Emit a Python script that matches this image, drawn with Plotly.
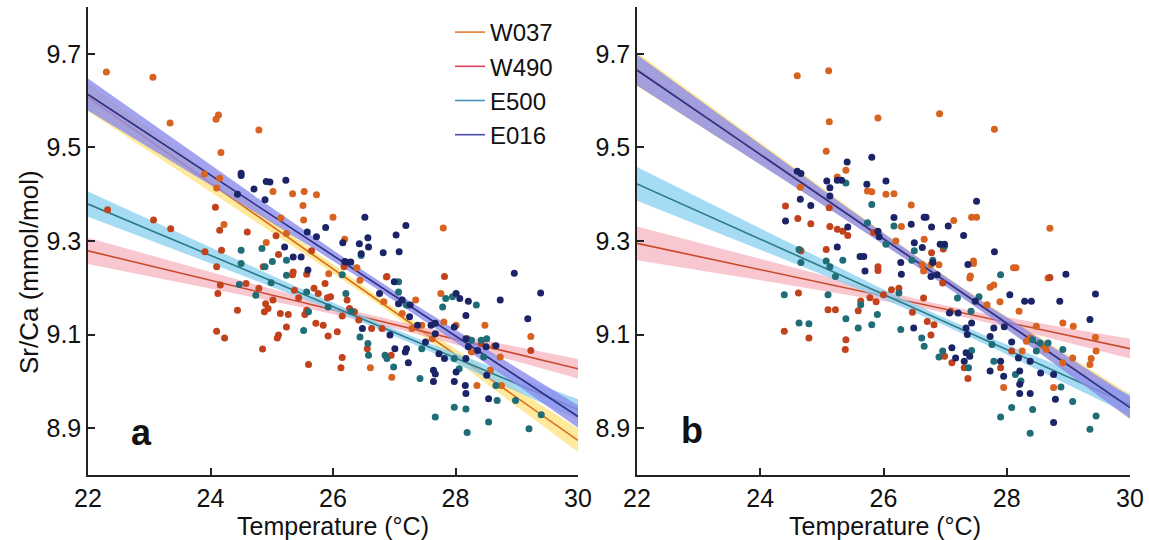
import numpy as np
import plotly.graph_objects as go

# ---------------- data ----------------
SERIES = ["W037", "W490", "E500", "E016"]

# panel a : (temperature degC, Sr/Ca mmol/mol)
W037_a = [(22.30, 9.661), (23.06, 9.650), (23.34, 9.552), (24.09, 9.560), (24.13, 9.569), (24.17, 9.489),
          (24.79, 9.537), (23.90, 9.443), (24.15, 9.434), (24.10, 9.413), (25.02, 9.406), (25.34, 9.401),
          (25.53, 9.406), (25.73, 9.399), (25.51, 9.376), (24.22, 9.335), (25.15, 9.349), (25.52, 9.345),
          (26.00, 9.351), (25.24, 9.316), (24.91, 9.297), (26.19, 9.304), (27.80, 9.328), (26.87, 9.223),
          (26.39, 9.243), (25.93, 9.230), (26.44, 9.216), (26.83, 9.170), (27.13, 9.145), (27.35, 9.174),
          (27.45, 9.120), (27.76, 9.188), (27.81, 9.127), (28.01, 9.120), (28.20, 9.091), (28.35, 8.991),
          (28.48, 9.120), (28.57, 9.024), (28.73, 9.052), (28.75, 8.991), (28.63, 9.075), (29.23, 9.096),
          (27.29, 9.113), (26.61, 9.029), (26.96, 9.009), (27.62, 9.091), (28.26, 9.063)]
W490_a = [(22.32, 9.367), (23.07, 9.345), (23.35, 9.326), (24.08, 9.372), (24.15, 9.323), (24.60, 9.319),
          (25.07, 9.311), (24.18, 9.280), (23.91, 9.277), (25.65, 9.279), (24.10, 9.245), (24.86, 9.245),
          (25.11, 9.271), (25.34, 9.228), (24.16, 9.206), (24.12, 9.188), (24.44, 9.152), (24.10, 9.107),
          (24.23, 9.093), (24.85, 9.069), (24.58, 9.209), (24.79, 9.199), (24.90, 9.166), (24.94, 9.156),
          (24.88, 9.149), (25.02, 9.174), (25.14, 9.145), (25.27, 9.143), (25.24, 9.116), (25.09, 9.093),
          (25.11, 9.099), (25.35, 9.234), (25.37, 9.195), (25.44, 9.179), (25.57, 9.229), (25.57, 9.152),
          (25.54, 9.143), (25.69, 9.199), (25.76, 9.188), (25.87, 9.209), (25.91, 9.179), (25.96, 9.181),
          (25.60, 9.036), (25.72, 9.124), (25.84, 9.120), (25.92, 9.097), (26.07, 9.106), (26.15, 9.051),
          (26.13, 9.029), (26.18, 9.245), (26.23, 9.174), (26.27, 9.156), (26.15, 9.140), (26.35, 9.149),
          (26.42, 9.131), (26.56, 9.070), (26.63, 9.113), (26.80, 9.113), (26.88, 9.224), (26.95, 9.056),
          (27.82, 9.224), (29.23, 9.066), (28.42, 9.081)]
E500_a = [(24.50, 9.280), (24.84, 9.284), (24.89, 9.245), (25.24, 9.259), (25.24, 9.227), (26.46, 9.269),
          (26.15, 9.228), (24.50, 9.252), (25.01, 9.256), (24.47, 9.207), (24.74, 9.184), (24.99, 9.211),
          (25.57, 9.191), (25.60, 9.149), (25.52, 9.109), (25.92, 9.159), (26.21, 9.188), (26.30, 9.150),
          (26.44, 9.095), (26.57, 9.081), (26.58, 9.056), (26.85, 9.056), (26.88, 9.049), (26.99, 9.031),
          (27.07, 9.213), (27.07, 9.191), (27.20, 9.163), (27.45, 9.070), (27.42, 9.006), (27.67, 8.924),
          (27.79, 9.159), (27.84, 9.177), (27.95, 9.181), (27.98, 8.945), (28.17, 8.941), (28.19, 8.891),
          (28.34, 9.163), (28.26, 9.088), (28.42, 9.088), (28.51, 9.091), (28.46, 9.052), (28.66, 8.991),
          (28.54, 8.913), (28.68, 8.959), (28.98, 8.959), (29.20, 8.899), (29.40, 8.929), (27.98, 9.049),
          (28.06, 9.027)]
E016_a = [(24.50, 9.445), (24.50, 9.440), (24.71, 9.411), (24.91, 9.427), (24.97, 9.426), (25.23, 9.430),
          (24.44, 9.400), (24.89, 9.388), (25.58, 9.319), (25.73, 9.309), (25.88, 9.329), (26.52, 9.351),
          (26.57, 9.307), (27.03, 9.313), (27.19, 9.333), (26.16, 9.296), (26.43, 9.294), (26.58, 9.287),
          (26.82, 9.275), (27.08, 9.277), (25.21, 9.287), (25.35, 9.266), (25.48, 9.266), (25.59, 9.238),
          (26.21, 9.255), (26.29, 9.255), (26.46, 9.273), (28.96, 9.231), (29.39, 9.189), (28.73, 9.174),
          (29.18, 9.134), (28.01, 9.188), (28.07, 9.177), (28.21, 9.171), (28.17, 9.141), (27.98, 9.116),
          (28.17, 9.091), (28.21, 9.074), (28.17, 9.049), (28.16, 8.991), (28.17, 8.974), (27.98, 9.000),
          (28.01, 9.020), (28.36, 9.066), (28.50, 9.074), (28.66, 9.076), (28.51, 9.013), (28.54, 8.963),
          (27.67, 9.124), (27.67, 9.102), (27.64, 9.024), (27.67, 9.016), (27.64, 9.000), (27.82, 9.049),
          (27.51, 9.084), (27.73, 9.059), (27.26, 9.163), (27.13, 9.174), (27.07, 9.166), (27.25, 9.138),
          (27.20, 9.070), (27.18, 9.063), (27.23, 9.040), (27.01, 9.070), (26.93, 9.099), (26.76, 9.188),
          (26.48, 9.113), (27.00, 9.213), (26.19, 9.256), (27.38, 9.120), (27.60, 9.120)]

# panel b
W037_b = [(24.60, 9.653), (25.11, 9.664), (25.12, 9.555), (25.07, 9.492), (25.91, 9.563), (26.91, 9.572),
          (27.80, 9.539), (24.65, 9.415), (25.25, 9.437), (25.39, 9.451), (25.74, 9.407), (25.81, 9.405),
          (26.04, 9.400), (26.17, 9.401), (26.45, 9.377), (26.29, 9.331), (26.20, 9.300), (26.66, 9.304),
          (27.14, 9.344), (27.43, 9.351), (27.51, 9.351), (27.46, 9.257), (28.70, 9.327), (28.15, 9.243),
          (27.41, 9.225), (26.65, 9.236), (26.63, 9.249), (26.77, 9.249), (26.90, 9.249), (27.40, 9.221),
          (27.46, 9.252), (27.73, 9.201), (27.79, 9.206), (27.68, 9.164), (27.89, 9.170), (28.11, 9.243),
          (28.67, 9.221), (28.20, 9.150), (28.48, 9.118), (28.91, 9.125), (29.08, 9.118), (29.44, 9.094),
          (29.45, 9.065), (29.37, 9.049), (29.35, 9.036), (28.91, 9.040), (29.07, 9.050), (28.76, 8.987),
          (27.95, 8.987), (28.38, 9.093), (28.60, 9.075), (28.64, 9.068), (28.25, 9.065), (28.32, 9.086)]
W490_b = [(24.41, 9.375), (24.61, 9.348), (24.82, 9.337), (25.12, 9.371), (25.13, 9.331), (25.25, 9.325),
          (25.34, 9.321), (25.42, 9.312), (25.84, 9.318), (25.07, 9.282), (24.66, 9.279), (26.78, 9.275),
          (26.97, 9.283), (28.70, 9.222), (25.91, 9.245), (25.91, 9.237), (24.39, 9.107), (24.79, 9.093),
          (24.62, 9.189), (25.39, 9.089), (25.38, 9.068), (25.10, 9.153), (25.22, 9.153), (25.59, 9.151),
          (25.78, 9.179), (25.63, 9.172), (25.88, 9.170), (26.25, 9.199), (26.13, 9.196), (26.00, 9.185),
          (26.47, 9.148), (26.65, 9.178), (26.71, 9.128), (26.77, 9.099), (26.96, 9.210), (26.82, 9.121),
          (27.09, 9.150), (27.11, 9.040), (26.99, 9.054), (27.31, 9.029), (27.37, 9.006), (27.90, 9.029),
          (28.08, 9.065)]
E500_b = [(25.39, 9.424), (25.81, 9.378), (25.74, 9.339), (26.17, 9.332), (26.04, 9.293), (24.63, 9.282),
          (24.66, 9.254), (25.07, 9.257), (25.34, 9.259), (25.13, 9.245), (26.50, 9.279), (26.46, 9.259),
          (26.80, 9.259), (26.99, 9.289), (24.39, 9.185), (24.63, 9.125), (24.79, 9.123), (25.10, 9.185),
          (25.22, 9.224), (25.39, 9.134), (25.59, 9.114), (25.63, 9.164), (25.81, 9.121), (25.90, 9.143),
          (26.25, 9.189), (26.28, 9.111), (26.62, 9.093), (26.66, 9.075), (26.90, 9.052), (26.96, 9.065),
          (27.42, 9.150), (27.43, 9.066), (27.38, 9.029), (27.76, 9.079), (27.90, 8.924), (28.08, 8.944),
          (28.42, 8.940), (28.38, 8.889), (28.42, 9.089), (28.54, 9.082), (28.48, 9.065), (28.67, 9.082),
          (28.88, 8.988), (29.07, 8.957), (29.35, 8.898), (29.45, 8.926), (28.91, 9.068), (27.90, 9.228),
          (27.55, 9.181), (27.20, 9.178), (28.14, 9.015), (28.23, 9.001), (27.79, 9.043)]
E016_b = [(24.60, 9.449), (24.66, 9.444), (24.65, 9.389), (24.82, 9.376), (24.41, 9.343), (25.08, 9.428),
          (25.13, 9.414), (25.13, 9.396), (25.25, 9.430), (25.32, 9.430), (25.41, 9.469), (25.73, 9.421),
          (25.81, 9.479), (26.04, 9.428), (25.42, 9.330), (25.25, 9.287), (25.62, 9.267), (25.68, 9.267),
          (25.70, 9.236), (25.91, 9.321), (25.93, 9.309), (26.17, 9.350), (26.45, 9.336), (26.66, 9.351),
          (26.69, 9.351), (26.50, 9.296), (26.78, 9.330), (27.05, 9.332), (27.30, 9.312), (27.51, 9.385),
          (27.80, 9.277), (27.37, 9.250), (26.92, 9.293), (26.99, 9.293), (26.63, 9.286), (26.28, 9.254),
          (26.29, 9.229), (26.80, 9.254), (28.96, 9.229), (29.44, 9.187), (28.86, 9.171), (29.35, 9.132),
          (28.05, 9.185), (28.29, 9.171), (28.40, 9.171), (27.96, 9.117), (28.08, 9.084), (28.19, 9.050),
          (28.21, 9.022), (28.21, 8.994), (28.21, 8.974), (28.38, 8.974), (27.95, 9.011), (27.90, 9.043),
          (27.73, 9.022), (28.38, 9.043), (28.55, 9.018), (28.76, 9.015), (28.79, 8.962), (28.76, 8.912),
          (27.49, 9.171), (27.43, 9.125), (27.34, 9.114), (27.36, 9.100), (27.21, 9.146), (27.11, 9.072),
          (27.17, 9.050), (27.34, 9.061), (27.40, 9.054), (27.31, 9.043), (27.07, 9.146), (26.87, 9.228),
          (26.77, 9.224), (26.49, 9.114), (27.73, 9.096), (27.79, 9.114)]

# regression lines: value at 22 degC and at 30 degC
FIT_T = [22.0, 30.0]
FIT_a = {"W037": [9.607, 8.874], "W490": [9.279, 9.027], "E500": [9.379, 8.940], "E016": [9.613, 8.925]}
FIT_b = {"W037": [9.667, 8.946], "W490": [9.295, 9.070], "E500": [9.422, 8.950], "E016": [9.665, 8.944]}
# confidence band half-widths: at 22 degC, narrowest (at centre temperature), at 30 degC
BAND_CENTRE = {"a": 26.8, "b": 27.0}
BAND_a = {"W037": [0.030, 0.008, 0.025], "W490": [0.028, 0.008, 0.021],
          "E500": [0.027, 0.007, 0.022], "E016": [0.034, 0.010, 0.024]}
BAND_b = {"W037": [0.036, 0.009, 0.027], "W490": [0.036, 0.008, 0.021],
          "E500": [0.036, 0.008, 0.022], "E016": [0.033, 0.010, 0.024]}

Y_TICKS = [8.9, 9.1, 9.3, 9.5, 9.7]
X_TICKS = [22, 24, 26, 28, 30]

# ---------------- styles ----------------
FONT = "Liberation Sans, Arial, Helvetica, sans-serif"
PT_COL = {"W037": "#D8621F", "W490": "#C2421E", "E500": "#1E6D77", "E016": "#1B2467"}
LINE_COL = {"W037": "#DA6A1C", "W490": "#C94A2C", "E500": "#2B7C88", "E016": "#2A2E7E"}
BAND_COL = {"W037": "rgba(255,224,115,0.72)", "W490": "rgba(245,158,172,0.58)",
            "E500": "rgba(135,206,240,0.74)", "E016": "rgba(140,140,236,0.80)"}
LEG_COL = {"W037": "#E8782E", "W490": "#E0445C", "E500": "#4A90C2", "E016": "#4A4BAA"}

W, H = 1149, 540
fig = go.Figure()

DATA = {"a": {"W037": W037_a, "W490": W490_a, "E500": E500_a, "E016": E016_a},
        "b": {"W037": W037_b, "W490": W490_b, "E500": E500_b, "E016": E016_b}}
FITS = {"a": FIT_a, "b": FIT_b}
BANDS = {"a": BAND_a, "b": BAND_b}
AX = {"a": ("x", "y"), "b": ("x2", "y2")}

tgrid = np.linspace(FIT_T[0], FIT_T[1], 161)
for p in ["a", "b"]:
    xa, ya = AX[p]
    tc = BAND_CENTRE[p]
    # band + fit line for each series, stacked in series order
    for s in SERIES:
        v0, v1 = FITS[p][s]
        line = v0 + (v1 - v0) * (tgrid - FIT_T[0]) / (FIT_T[1] - FIT_T[0])
        h0, hm, h1 = BANDS[p][s]
        kl = (h0 ** 2 - hm ** 2) / (tc - FIT_T[0]) ** 2
        kr = (h1 ** 2 - hm ** 2) / (FIT_T[1] - tc) ** 2
        k = np.where(tgrid < tc, kl, kr)
        hw = np.sqrt(hm ** 2 + k * (tgrid - tc) ** 2)
        fig.add_trace(go.Scatter(x=np.concatenate([tgrid, tgrid[::-1]]),
                                 y=np.concatenate([line + hw, (line - hw)[::-1]]),
                                 fill="toself", fillcolor=BAND_COL[s], line=dict(width=0),
                                 hoverinfo="skip", showlegend=False, xaxis=xa, yaxis=ya))
        fig.add_trace(go.Scatter(x=FIT_T, y=FITS[p][s], mode="lines",
                                 line=dict(color=LINE_COL[s], width=1.6),
                                 showlegend=False, xaxis=xa, yaxis=ya))
    # points
    for s in SERIES:
        pts = DATA[p][s]
        fig.add_trace(go.Scatter(x=[q[0] for q in pts], y=[q[1] for q in pts], mode="markers",
                                 marker=dict(size=7, color=PT_COL[s], line=dict(width=0)),
                                 showlegend=False, xaxis=xa, yaxis=ya))

# legend entries
for s in SERIES:
    fig.add_trace(go.Scatter(x=[None], y=[None], mode="lines", name=s,
                             line=dict(color=LEG_COL[s], width=1.6), xaxis="x", yaxis="y"))

axis_common = dict(showgrid=False, zeroline=False, showline=True, linecolor="#222", linewidth=1.5,
                   ticks="inside", ticklen=7, tickwidth=1.5, tickcolor="#222", automargin=False,
                   tickfont=dict(family=FONT, size=25, color="#111"))
ydom = [1 - 475 / H, 1 - 7 / H]
fig.update_layout(
    width=W, height=H, margin=dict(l=0, r=0, t=0, b=0, autoexpand=False),
    paper_bgcolor="white", plot_bgcolor="white",
    xaxis=dict(domain=[88 / W, 578 / W], range=[22, 30], tickvals=X_TICKS, anchor="y", **axis_common),
    yaxis=dict(domain=ydom, range=[8.8, 9.8], tickvals=Y_TICKS, anchor="x", **axis_common),
    xaxis2=dict(domain=[637 / W, 1130 / W], range=[22, 30], tickvals=X_TICKS, anchor="y2", **axis_common),
    yaxis2=dict(domain=ydom, range=[8.8, 9.8], tickvals=Y_TICKS, anchor="x2", **axis_common),
    legend=dict(x=450 / W, y=1 - 10 / H, xanchor="left", yanchor="top", bgcolor="rgba(0,0,0,0)",
                font=dict(family=FONT, size=24, color="#111"), tracegroupgap=0, itemwidth=30),
    showlegend=True,
    annotations=[
        dict(text="Temperature (°C)", x=333 / W, y=1 - 526 / H, xref="paper", yref="paper",
             showarrow=False, font=dict(family=FONT, size=25, color="#111"), xanchor="center", yanchor="middle"),
        dict(text="Temperature (°C)", x=885 / W, y=1 - 526 / H, xref="paper", yref="paper",
             showarrow=False, font=dict(family=FONT, size=25, color="#111"), xanchor="center", yanchor="middle"),
        dict(text="Sr/Ca (mmol/mol)", x=29 / W, y=1 - 272 / H, xref="paper", yref="paper", textangle=-90,
             showarrow=False, font=dict(family=FONT, size=26, color="#111"), xanchor="center", yanchor="middle"),
        dict(text="<b>a</b>", x=141 / W, y=1 - 432 / H, xref="paper", yref="paper",
             showarrow=False, font=dict(family=FONT, size=36, color="#111"), xanchor="center", yanchor="middle"),
        dict(text="<b>b</b>", x=692 / W, y=1 - 430 / H, xref="paper", yref="paper",
             showarrow=False, font=dict(family=FONT, size=36, color="#111"), xanchor="center", yanchor="middle"),
    ],
)

fig.write_html("out.html")
